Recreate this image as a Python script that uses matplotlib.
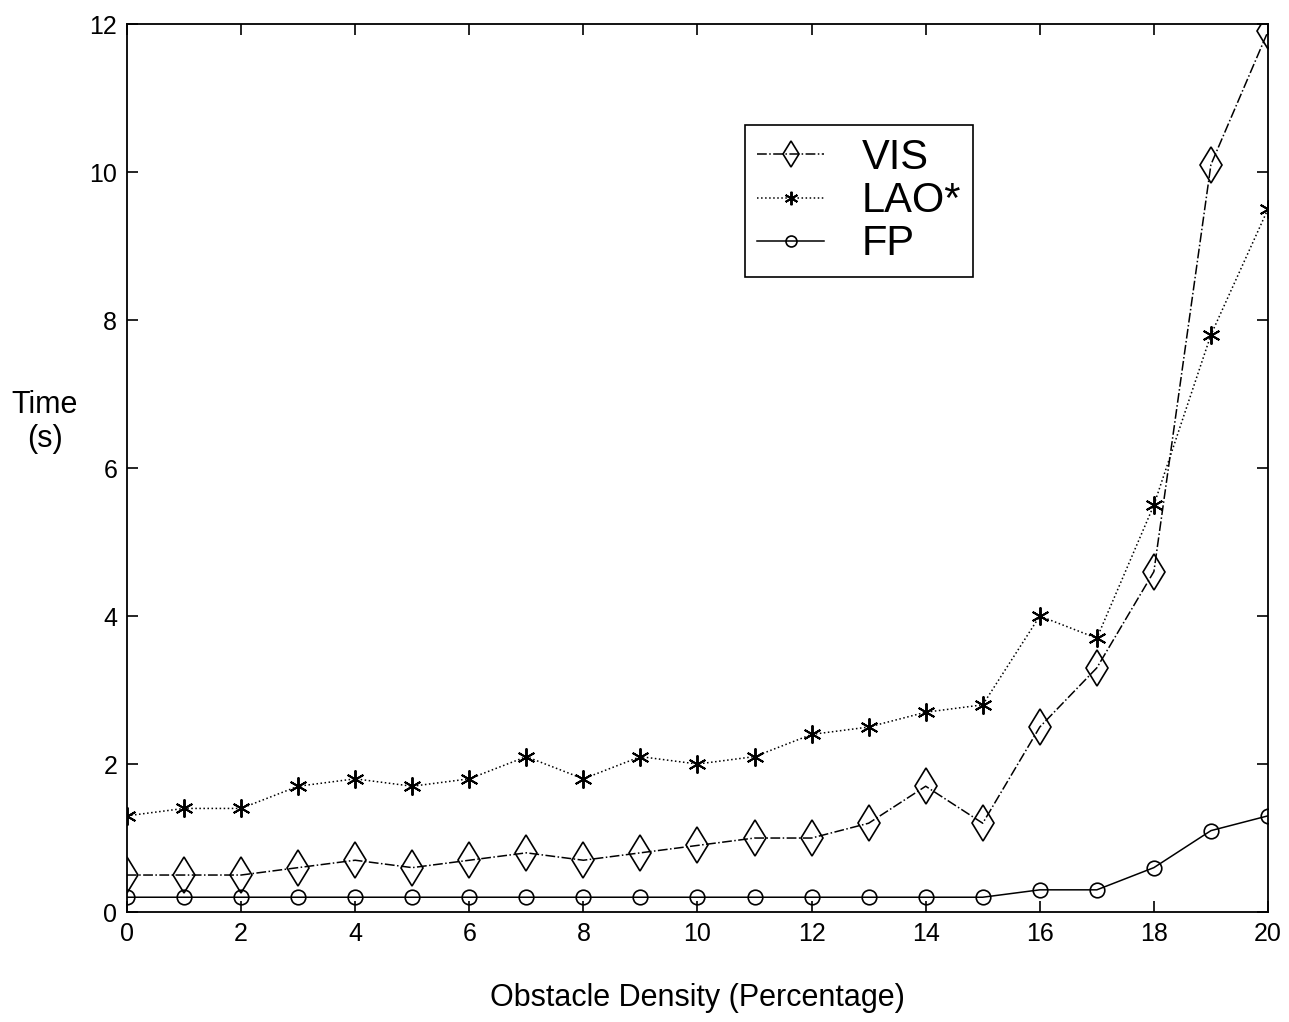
import matplotlib
matplotlib.use('Agg')
import matplotlib.pyplot as plt

plt.rcParams['font.family'] = ['Liberation Sans', 'DejaVu Sans']

density = list(range(0, 21))
vis = [0.5, 0.5, 0.5, 0.6, 0.7, 0.6, 0.7, 0.8, 0.7, 0.8, 0.9,
       1.0, 1.0, 1.2, 1.7, 1.2, 2.5, 3.3, 4.6, 10.1, 11.9]
lao = [1.3, 1.4, 1.4, 1.7, 1.8, 1.7, 1.8, 2.1, 1.8, 2.1, 2.0,
       2.1, 2.4, 2.5, 2.7, 2.8, 4.0, 3.7, 5.5, 7.8, 9.5]
fp = [0.2, 0.2, 0.2, 0.2, 0.2, 0.2, 0.2, 0.2, 0.2, 0.2, 0.2,
      0.2, 0.2, 0.2, 0.2, 0.2, 0.3, 0.3, 0.6, 1.1, 1.3]

fig = plt.figure(figsize=(12.89, 10.22), dpi=100)
ax = fig.add_axes([0.0985, 0.1076, 0.8852, 0.8689])

ax.plot(density, vis, linestyle='-.', color='black', lw=1.1, marker='d',
        markersize=18, markerfacecolor='none', markeredgewidth=1.2, label='VIS')
ax.plot(density, lao, linestyle=':', color='black', lw=1.1, marker=(6, 2, 0),
        markersize=13, markeredgewidth=1.4, label='LAO*')
ax.plot(density, fp, linestyle='-', color='black', lw=1.1, marker='o',
        markersize=10.5, markerfacecolor='none', markeredgewidth=1.2, label='FP')

ax.set_xlim(0, 20)
ax.set_ylim(0, 12)
ax.set_xticks(range(0, 21, 2))
ax.set_yticks(range(0, 13, 2))
ax.tick_params(direction='in', top=True, right=True, length=8, width=1.2,
               labelsize=18, pad=7)
for s in ax.spines.values():
    s.set_linewidth(1.3)

ax.set_xlabel('Obstacle Density (Percentage)', fontsize=22, va='center')
ax.xaxis.set_label_coords(0.5, -0.097)
ax.set_ylabel('Time\n(s)', fontsize=22, rotation=0, va='center', ha='center')
ax.yaxis.set_label_coords(-0.072, 0.552)

leg = ax.legend(loc='upper left', bbox_to_anchor=(0.5416, 0.886), fontsize=30,
                frameon=True, fancybox=False, edgecolor='black', framealpha=1,
                handlelength=1.6, borderpad=0.3, labelspacing=0.08,
                handletextpad=0.9, borderaxespad=0, markerscale=0.75)
leg.get_frame().set_linewidth(1.2)

fig.savefig('out.png', dpi=100)
